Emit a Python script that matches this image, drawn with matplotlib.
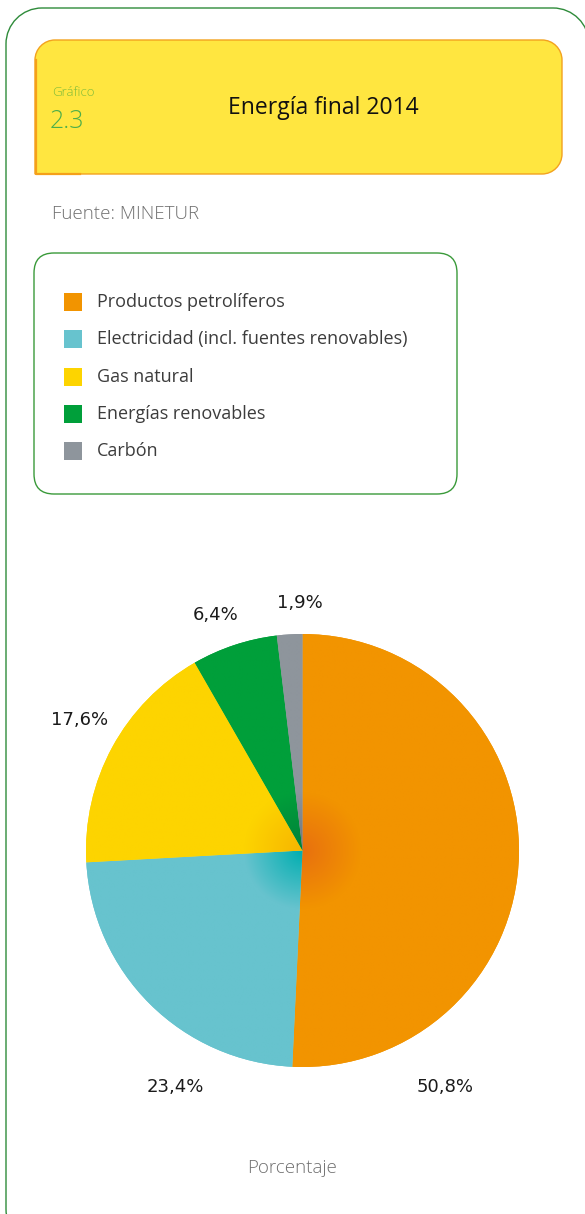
import numpy as np
import matplotlib
matplotlib.use("Agg")
import matplotlib.pyplot as plt
from matplotlib.patches import FancyBboxPatch, Rectangle, PathPatch
from matplotlib.path import Path
from matplotlib.colors import to_rgb

plt.rcParams['font.family'] = ['Open Sans', 'DejaVu Sans']

# datos
categorias = ["Productos petrolíferos", "Electricidad (incl. fuentes renovables)",
              "Gas natural", "Energías renovables", "Carbón"]
valores = [50.8, 23.4, 17.6, 6.4, 1.9]
etiquetas = ["50,8%", "23,4%", "17,6%", "6,4%", "1,9%"]
colores = ["#F29400", "#67C3CE", "#FDD400", "#009F3A", "#8E959C"]
colores_centro = ["#E8700F", "#00AEB0", "#F7B500", "#00803A", "#6E757C"]

# posiciones de las etiquetas (px)
label_pos = [(445, 1087), (175, 1087), (80, 720), (216, 615), (300, 603)]

W, H = 585, 1214


def caja(x0, y0, x1, y1, r, redondas=(True, True, True, True)):
    # esquinas: sup-izq, sup-der, inf-der, inf-izq (y hacia abajo)
    tl, tr, br, bl = [r if c else 0 for c in redondas]
    k = 0.5523
    v, c = [], []
    v.append((x0 + tl, y0)); c.append(Path.MOVETO)
    v.append((x1 - tr, y0)); c.append(Path.LINETO)
    if tr:
        v += [(x1 - tr + k * tr, y0), (x1, y0 + tr - k * tr), (x1, y0 + tr)]; c += [Path.CURVE4] * 3
    v.append((x1, y1 - br)); c.append(Path.LINETO)
    if br:
        v += [(x1, y1 - br + k * br), (x1 - br + k * br, y1), (x1 - br, y1)]; c += [Path.CURVE4] * 3
    v.append((x0 + bl, y1)); c.append(Path.LINETO)
    if bl:
        v += [(x0 + bl - k * bl, y1), (x0, y1 - bl + k * bl), (x0, y1 - bl)]; c += [Path.CURVE4] * 3
    v.append((x0, y0 + tl)); c.append(Path.LINETO)
    if tl:
        v += [(x0, y0 + tl - k * tl), (x0 + tl - k * tl, y0), (x0 + tl, y0)]; c += [Path.CURVE4] * 3
    v.append((x0 + tl, y0)); c.append(Path.CLOSEPOLY)
    return Path(v, c)


fig = plt.figure(figsize=(W / 100, H / 100), dpi=100)
bg = fig.add_axes([0, 0, 1, 1])
bg.set_xlim(0, W)
bg.set_ylim(H, 0)
bg.axis("off")

# marco exterior
bg.add_patch(PathPatch(caja(6, 8, 589, 1245, 36), fc="white", ec="#2E8B3A", lw=1.0))

# cabecera amarilla
bg.add_patch(PathPatch(caja(35, 40, 562, 174, 20, (True, True, True, False)),
                       fc="#FFE640", ec="#F3A21E", lw=1.0))
bg.plot([35.5, 35.5, 80], [60, 173.5, 173.5], color="#F5A01A", lw=1.6)
bg.text(52, 92, "Gráfico", fontsize=9.5, color="#7DBB3A", va="center", fontweight="light")
bg.text(50, 121, "2.3", fontsize=18, color="#4DAE4A", va="center", fontweight="light")
bg.text(323, 108, "Energía final 2014", fontsize=16.5, color="#111111",
        ha="center", va="center")

bg.text(52, 214, "Fuente: MINETUR", fontsize=13.5, color="#707070", va="center",
        fontweight="light")

# leyenda
bg.add_patch(FancyBboxPatch((34, 253), 423, 241, boxstyle="round,pad=0,rounding_size=20",
                            fc="white", ec="#3A9A3A", lw=1.0))
for i, (cat, col) in enumerate(zip(categorias, colores)):
    y = 302 + i * 37.3
    bg.add_patch(Rectangle((64, y - 9), 18, 18, fc=col, ec="none"))
    bg.text(97, y, cat, fontsize=13, color="#3C3C3C", va="center")

# tarta
ax = fig.add_axes([86 / W, 1 - 1067 / H, 433 / W, 433 / H])
wedges, _ = ax.pie(valores, colors=colores, startangle=90, counterclock=False,
                   radius=1, wedgeprops=dict(linewidth=0))
ax.set_xlim(-1, 1)
ax.set_ylim(-1, 1)
ax.set_aspect("equal")
ax.axis("off")

# degradado radial en el centro
n = 400
xx, yy = np.meshgrid(np.linspace(-1, 1, n), np.linspace(-1, 1, n))
rr = np.sqrt(xx ** 2 + yy ** 2)
t = np.clip(rr / 0.27, 0, 1)[..., None]
for w, c0, c1 in zip(wedges, colores_centro, colores):
    img = np.array(to_rgb(c0)) * (1 - t) + np.array(to_rgb(c1)) * t
    im = ax.imshow(img, extent=[-1, 1, -1, 1], origin="lower", zorder=2,
                   interpolation="bilinear")
    im.set_clip_path(w)

for (x, y), txt in zip(label_pos, etiquetas):
    bg.text(x, y, txt, fontsize=13, color="#1A1A1A", ha="center", va="center",
            family="DejaVu Sans")

bg.text(292, 1168, "Porcentaje", fontsize=13.5, color="#707070", ha="center", va="center",
        fontweight="light")

fig.savefig("out.png", dpi=100)
